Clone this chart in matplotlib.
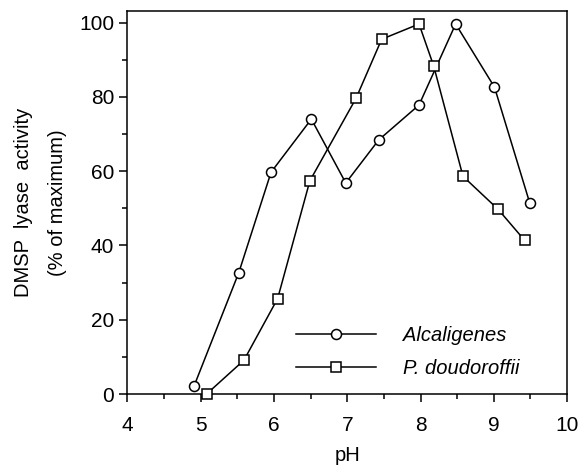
import matplotlib
matplotlib.use("Agg")
import matplotlib.pyplot as plt
from matplotlib.ticker import MultipleLocator

plt.rcParams['font.family'] = ['Liberation Sans', 'DejaVu Sans']

alc_ph = [4.91, 5.52, 5.96, 6.51, 6.98, 7.43, 7.98, 8.48, 9.01, 9.49]
alc_act = [2.2, 32.7, 59.7, 74.0, 56.8, 68.4, 77.8, 99.6, 82.6, 51.5]

pd_ph = [5.08, 5.59, 6.05, 6.49, 7.12, 7.47, 7.98, 8.18, 8.58, 9.06, 9.42]
pd_act = [0.0, 9.1, 25.7, 57.4, 79.6, 95.5, 99.6, 88.3, 58.6, 49.7, 41.4]

xticks = [4, 5, 6, 7, 8, 9, 10]
yticks = [0, 20, 40, 60, 80, 100]

fig = plt.figure(figsize=(5.8, 4.66), dpi=100)
ax = fig.add_axes([0.2198, 0.1545, 0.7578, 0.8219])

ax.plot(alc_ph, alc_act, '-', color='black', lw=1.1, marker='o', ms=7.2,
        mfc='white', mec='black', mew=1.1, label='Alcaligenes', clip_on=False, zorder=3)
ax.plot(pd_ph, pd_act, '-', color='black', lw=1.1, marker='s', ms=7.6,
        mfc='white', mec='black', mew=1.1, label='P. doudoroffii', clip_on=False, zorder=3)

ax.set_xlim(4, 10)
ax.set_ylim(0, 103.1)
ax.set_xticks(xticks)
ax.set_yticks(yticks)
ax.xaxis.set_minor_locator(MultipleLocator(0.5))
ax.yaxis.set_minor_locator(MultipleLocator(10))
ax.tick_params(which='major', direction='out', length=6, width=1.1, labelsize=15)
ax.tick_params(axis='x', which='major', pad=10)
ax.tick_params(axis='y', which='major', pad=3.5)
ax.tick_params(which='minor', direction='out', length=3.5, width=1.1)
for s in ax.spines.values():
    s.set_linewidth(1.1)

ax.set_xlabel('pH', fontsize=14.5, labelpad=8)
ax.set_ylabel('DMSP  lyase  activity\n(% of maximum)', fontsize=14.5, labelpad=9,
              linespacing=2.0)

leg = ax.legend(loc='upper left', bbox_to_anchor=(0.342, 0.225), frameon=False,
                handlelength=4.0, handletextpad=1.3,
                labelspacing=0.72, prop={'style': 'italic', 'size': 14.5})

fig.savefig('out.png', dpi=100)
